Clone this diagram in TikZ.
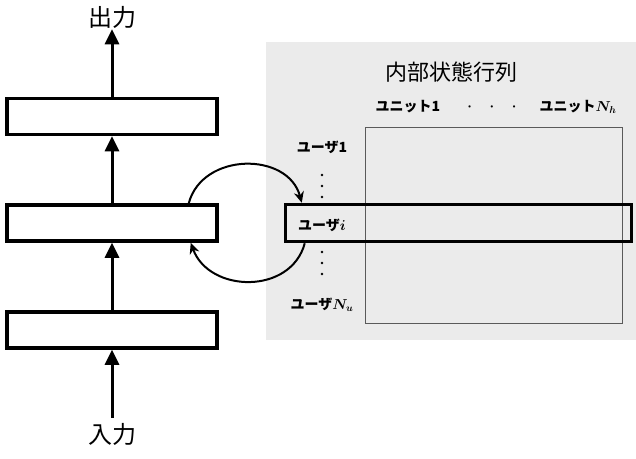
\documentclass[tikz,border=0pt]{standalone}
\usepackage{fontspec}
\newfontfamily\jpfont{Noto Sans CJK JP}
\usetikzlibrary{positioning,arrows.meta}
\definecolor{panelGray}{HTML}{EBEBEB}
\definecolor{gridGray}{HTML}{5A5A5A}

\begin{document}
\begin{tikzpicture}[x=1pt,y=1pt,
  layer/.style={draw, line width=3.5pt, minimum width=210pt, minimum height=36pt, inner sep=0pt},
  flow/.style={line width=3pt, -{Triangle[width=14pt,length=15pt]}},
  loop/.style={line width=2pt, -{Stealth[width=10pt,length=11pt]}},
  big/.style={font=\jpfont\fontsize{24}{28}\selectfont, inner sep=1pt},
  lab/.style={font=\jpfont\bfseries\boldmath\fontsize{14}{16}\selectfont, inner sep=1pt}]
\useasboundingbox (0,0) rectangle (636,-458);
% internal state panel
\node[fill=panelGray, minimum width=370pt, minimum height=298pt, anchor=north west, inner sep=0pt] (panel) at (266,-42) {};
\node[big, font=\jpfont\fontsize{22}{26}\selectfont] (title) at (451,-72) {内部状態行列};
\node[draw=gridGray, line width=1pt, minimum width=257pt, minimum height=196pt, inner sep=0pt] (mat) at (493.5,-225) {};
\node[draw, line width=3.5pt, minimum width=346pt, minimum height=37pt, inner sep=0pt] (row) at (458.5,-223) {};
% labels
\node[lab] (unit1) at (408,-107) {ユニット1};
\node[lab] (hdots) at (492,-107) {$\cdot\quad\cdot\quad\cdot$};
\node[lab] (unitN) at (578,-107) {ユニット$N_h$};
\node[lab] (user1) at (322,-147) {ユーザ1};
\node[lab] (useri) at (322,-225) {ユーザ$i$};
\node[lab] (userN) at (322,-305) {ユーザ$N_u$};
\foreach \k in {0,1,2} {
  \fill (322,-175-11*\k) circle (1.3pt);
  \fill (322,-252-11*\k) circle (1.3pt);
}
% network layers
\node[layer] (l1) at (112,-330) {};
\node[layer] (l2) at (112,-223) {};
\node[layer] (l3) at (112,-116.5) {};
\node[big] (inp) at (112,-434) {入力};
\node[big] (outp) at (112,-17) {出力};
\draw[flow] ([yshift=4pt]inp.north) -- (l1.south);
\draw[flow] (l1.north) -- (l2.south);
\draw[flow] (l2.north) -- (l3.south);
\draw[flow] (l3.north) -- (outp.south);
% recurrent loop
\draw[loop] ([xshift=-30pt]l2.north east) to[out=75,in=105,looseness=1.2] ([xshift=18pt]row.north west);
\draw[loop] ([xshift=21pt]row.south west) to[out=-105,in=-70,looseness=1.2] ([xshift=-28pt]l2.south east);
\end{tikzpicture}
\end{document}
